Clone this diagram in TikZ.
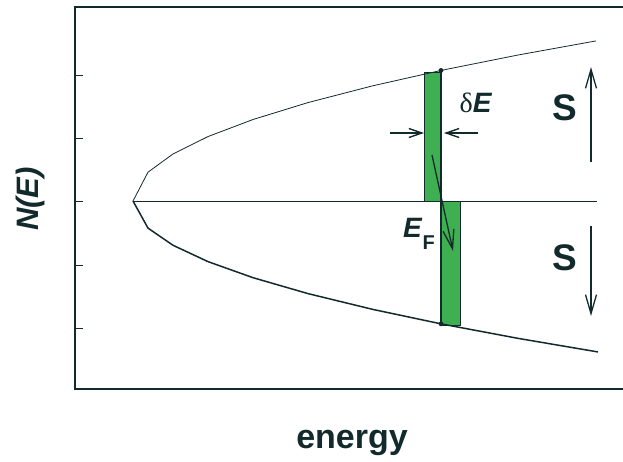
\documentclass[tikz,border=0pt]{standalone}
\usepackage{fontspec}
\setmainfont{Liberation Sans}
\newfontfamily\greekserif{Liberation Serif}
\usetikzlibrary{arrows.meta}

\definecolor{inkline}{RGB}{18,42,44}
\definecolor{bandgreen}{RGB}{62,176,82}

\tikzset{
  axislabel/.style={font=\fontsize{31}{34}\selectfont\bfseries, text=inkline},
  spinlabel/.style={font=\fontsize{37}{40}\selectfont\bfseries, text=inkline},
  bandbox/.style={fill=bandgreen, draw=inkline, line width=0.6pt},
  barb/.style={-{Straight Barb[length=13pt,width=9pt]}, line width=1.4pt, draw=inkline},
  longbarb/.style={-{Straight Barb[length=19pt,width=11pt]}, line width=1.3pt, draw=inkline},
  dosline/.style={draw=inkline, line join=round},
}

\begin{document}
\begin{tikzpicture}[x=1pt,y=-1pt]
\useasboundingbox (0,0) rectangle (623,461);

% frame and ticks
\draw[inkline, line width=1.6pt] (630,7) -- (75,7) -- (75,389) -- (630,389);
\foreach \ty in {75,138,201,265,328}
  \draw[inkline, line width=0.7pt] (75,\ty) -- (83,\ty);

% spin bands
\draw[bandbox] (424,72) rectangle (441,201);
\draw[bandbox] (441,201) rectangle (460,325);

% density of states
\draw[dosline, line width=0.8pt] plot[samples at={0,15,40,75,120,175,240,310,385,463}] ({133+\x},{201-7.44*sqrt(\x)});
\draw[dosline, line width=1.5pt] plot[samples at={0,15,40,75,120,175,240,310,385,465}] ({133+\x},{201+7.0*sqrt(\x)});
\draw[inkline, line width=0.6pt] (133,201) -- (597,201);

% Fermi level
\coordinate (ftop) at (441,{201-7.44*sqrt(308)});
\coordinate (fbot) at (441,{201+7.0*sqrt(308)});
\draw[inkline, line width=1.4pt] (ftop) -- (fbot);
\fill[inkline] (ftop) circle (2.4) (fbot) circle (2.4);

% width markers
\coordinate (wleft) at (390,133);
\coordinate (wright) at (478,133);
\coordinate (bandl) at (424,133);
\coordinate (bandr) at (444,133);
\draw[barb] (wleft) -- (bandl);
\draw[barb] (wright) -- (bandr);
\node[font=\fontsize{28}{32}\selectfont, text=inkline] (dE) at (476,103) {{\greekserif δ}\textbf{\textit{E}}};

\coordinate (tiltfoot) at (432,155);
\coordinate (tilthead) at (453,251);
\draw[longbarb] (tiltfoot) -- (tilthead);
\node[font=\fontsize{28}{32}\selectfont\bfseries, text=inkline] (EF) at (419,234) {\textit{E}\raisebox{-0.45em}{\fontsize{20}{24}\selectfont F}};

% spin labels
\node[spinlabel] (spinup) at (565,108) {S};
\node[spinlabel] (spindown) at (565,258) {S};
\coordinate (upfoot) at (591,162);
\coordinate (uphead) at (591,67);
\coordinate (downfoot) at (591,226);
\coordinate (downhead) at (591,316);
\draw[longbarb] (upfoot) -- (uphead);
\draw[longbarb] (downfoot) -- (downhead);

% axis labels
\node[axislabel, rotate=90] (dos) at (30,199) {\itshape N(E)};
\node[axislabel, font=\fontsize{34}{38}\selectfont\bfseries, anchor=base] (energy) at (352,448) {energy};
\end{tikzpicture}
\end{document}
